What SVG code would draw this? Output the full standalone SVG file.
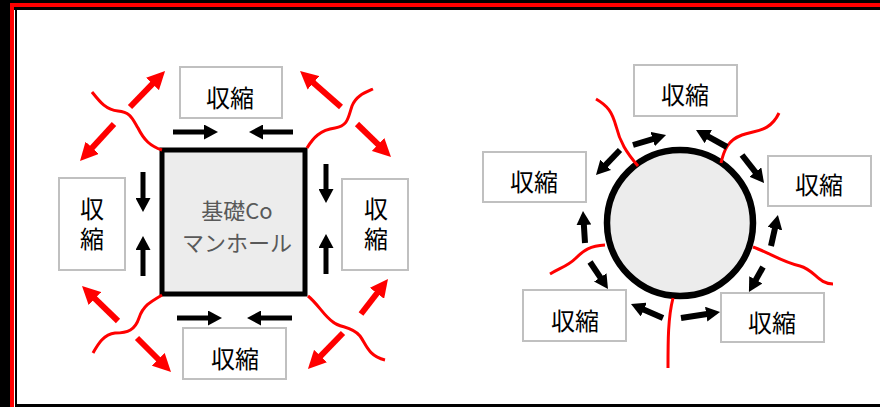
<svg xmlns="http://www.w3.org/2000/svg" width="880" height="407" viewBox="0 0 880 407">
<style>
.box{fill:#fff;stroke:#c0c0c0;stroke-width:2}
.lbl{font-family:"Noto Sans CJK JP","Noto Sans",sans-serif;font-size:24px;fill:#000;text-anchor:middle;dominant-baseline:central}
.vlbl{font-family:"Noto Sans CJK JP","Noto Sans",sans-serif;font-size:24px;fill:#000;text-anchor:middle;writing-mode:vertical-rl;letter-spacing:6px}
.core{font-family:"Noto Sans CJK JP","Noto Sans",sans-serif;font-size:22px;fill:#595959;text-anchor:middle;dominant-baseline:central}
.crack{fill:none;stroke:#ff0000;stroke-width:3}
.rarr{stroke:#ff0000;stroke-width:6;marker-end:url(#rh)}
.karr{stroke:#000;stroke-width:5;marker-end:url(#kh)}
.karr2{stroke:#000;stroke-width:6;marker-end:url(#kh)}
</style>
<defs>
<marker id="kh" markerUnits="userSpaceOnUse" markerWidth="15" markerHeight="15" refX="1" refY="7.5" orient="auto" viewBox="0 0 15 15"><path d="M0,0 L14,7.5 L0,15 z" fill="#000"/></marker>
<marker id="rh" markerUnits="userSpaceOnUse" markerWidth="18" markerHeight="18" refX="1" refY="9" orient="auto" viewBox="0 0 18 18"><path d="M0,0 L18,9 L0,18 z" fill="#ff0000"/></marker>
</defs>
<rect x="0" y="0" width="880" height="407" fill="#fff"/>
<g id="frame">
<rect x="0" y="0" width="10" height="407" fill="#000"/>
<rect x="0" y="0" width="880" height="3" fill="#000"/>
<rect x="10" y="3" width="870" height="4" fill="#ff0000"/>
<rect x="10" y="3" width="4" height="404" fill="#ff0000"/>
<rect x="14" y="7" width="866" height="3" fill="#000"/>
<rect x="15" y="7" width="2" height="400" fill="#000"/>
<rect x="15" y="404" width="865" height="3" fill="#000"/>
</g>
<g id="manhole-square">
<rect x="162" y="150" width="143" height="144" fill="#ececec" stroke="#000" stroke-width="5"/>
<text class="core" x="237" y="208.5">基礎Co</text>
<text class="core" x="237" y="241">マンホール</text>
</g>
<g id="sq-top"><rect class="box" x="180" y="67" width="102" height="51"/><text class="lbl" x="230" y="96">収縮</text></g>
<g id="sq-left"><rect class="box" x="59" y="178" width="66" height="92"/><text class="vlbl" x="92" y="227">収縮</text></g>
<g id="sq-right"><rect class="box" x="342" y="179" width="66" height="91"/><text class="vlbl" x="376" y="227">収縮</text></g>
<g id="sq-bottom"><rect class="box" x="183" y="328" width="103" height="51"/><text class="lbl" x="235" y="357">収縮</text></g>
<g id="manhole-circle">
<circle cx="680" cy="223" r="73" fill="#ececec" stroke="#000" stroke-width="6.5"/>
</g>
<g id="c-top"><rect class="box" x="634" y="65" width="103" height="51"/><text class="lbl" x="685" y="93">収縮</text></g>
<g id="c-left"><rect class="box" x="483" y="152" width="103" height="50"/><text class="lbl" x="534" y="180">収縮</text></g>
<g id="c-right"><rect class="box" x="768" y="156" width="103" height="50"/><text class="lbl" x="819" y="183">収縮</text></g>
<g id="c-lowleft"><rect class="box" x="523" y="290" width="103" height="51"/><text class="lbl" x="575" y="319">収縮</text></g>
<g id="c-lowright"><rect class="box" x="721" y="293" width="103" height="49"/><text class="lbl" x="772" y="321">収縮</text></g>
<g id="connectors">
<path class="crack" d="M92,92 C100,102 106,110 118,111 C130,112 132,118 138,128 C144,140 150,146 162,150"/>
<path class="crack" d="M307,148 C313,138 320,130 335,128 C348,126 348,118 352,106 C356,96 364,93 373,89"/>
<path class="crack" d="M162,295 C150,302 143,306 139,318 C135,330 128,333 115,333 C104,334 98,344 93,353"/>
<path class="crack" d="M308,296 C318,304 324,316 333,322 C340,328 352,326 360,336 C366,344 368,356 385,360"/>
<line class="rarr" x1="130" y1="107" x2="153.2" y2="83.2"/>
<line class="rarr" x1="114" y1="124" x2="91.5" y2="148.5"/>
<line class="rarr" x1="341" y1="107" x2="312.8" y2="82.2"/>
<line class="rarr" x1="357" y1="124" x2="378.8" y2="145.2"/>
<line class="rarr" x1="118" y1="321" x2="94.2" y2="297.9"/>
<line class="rarr" x1="137" y1="338" x2="159" y2="360"/>
<line class="rarr" x1="361" y1="314" x2="377.6" y2="292.5"/>
<line class="rarr" x1="343" y1="333" x2="319.8" y2="356.8"/>
<line class="karr" x1="173" y1="132" x2="205" y2="132"/>
<line class="karr" x1="293" y1="132" x2="262" y2="132"/>
<line class="karr" x1="177" y1="318" x2="209" y2="318"/>
<line class="karr" x1="292" y1="318" x2="260" y2="318"/>
<line class="karr" x1="143" y1="172" x2="143" y2="199"/>
<line class="karr" x1="143" y1="276" x2="143" y2="249"/>
<line class="karr" x1="326" y1="164" x2="326" y2="190"/>
<line class="karr" x1="326" y1="274" x2="326" y2="247"/>
<path class="crack" d="M596,99 C608,106 612,112 616,126 C620,142 626,152 638,166"/>
<path class="crack" d="M721,163 C724,150 728,140 742,135 C756,130 770,132 779,113"/>
<path class="crack" d="M605,245 C590,246 584,250 576,258 C568,266 560,268 550,274"/>
<path class="crack" d="M753,247 C768,252 782,262 800,266 C815,270 818,284 833,284"/>
<path class="crack" d="M673,298 C668,318 668,340 668,368"/>
<line class="karr2" x1="633" y1="145" x2="653.6" y2="138.8"/>
<line class="karr2" x1="620" y1="150" x2="605" y2="165.6"/>
<line class="karr2" x1="727" y1="147" x2="707.4" y2="136.2"/>
<line class="karr2" x1="742" y1="155" x2="756" y2="172.8"/>
<line class="karr2" x1="585" y1="243" x2="583.8" y2="224"/>
<line class="karr2" x1="590" y1="262" x2="600.8" y2="278.2"/>
<line class="karr2" x1="663" y1="318" x2="642.9" y2="309.2"/>
<line class="karr2" x1="681" y1="318" x2="707.2" y2="314"/>
<line class="karr2" x1="763" y1="267" x2="755.3" y2="280.7"/>
<line class="karr2" x1="771" y1="246" x2="775.1" y2="227.7"/>
</g>
</svg>
